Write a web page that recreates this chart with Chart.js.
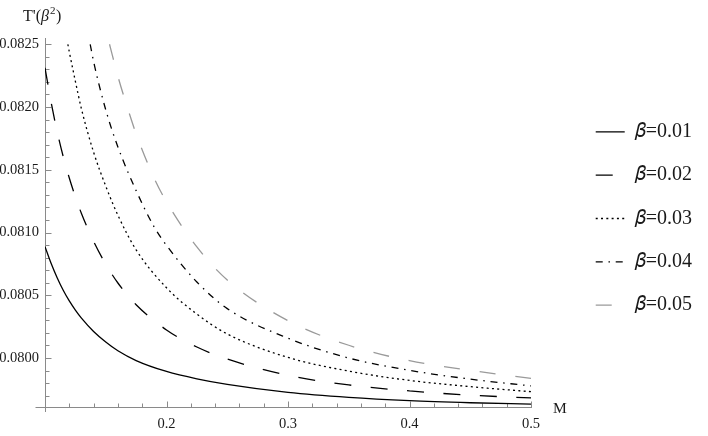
<!DOCTYPE html>
<html>
<head>
<meta charset="utf-8">
<script src="https://cdn.jsdelivr.net/npm/chart.js@4.4.1/dist/chart.umd.min.js"></script>
<style>
html,body{margin:0;padding:0;background:#ffffff;}
#wrap{width:708px;height:436px;}
</style>
</head>
<body>
<div id="wrap"><canvas id="chart" width="708" height="436"></canvas></div>
<script>
// ---- data ----
const seriesLabels = ['𝛽=0.01', '𝛽=0.02', '𝛽=0.03', '𝛽=0.04', '𝛽=0.05'];

const mBeta001 = [0.1, 0.105, 0.11, 0.115, 0.12, 0.125, 0.13, 0.14, 0.15, 0.16, 0.175, 0.2, 0.225, 0.25, 0.3, 0.35, 0.4, 0.45, 0.5];
const tBeta001 = [0.080888, 0.080755, 0.080640, 0.080540, 0.080455, 0.080382, 0.080318, 0.080212, 0.080128, 0.080058, 0.079980, 0.079893, 0.079834, 0.079790, 0.079726, 0.079686, 0.079660, 0.079644, 0.079633];

const mBeta002 = [0.1, 0.105, 0.11, 0.115, 0.12, 0.125, 0.13, 0.14, 0.15, 0.16, 0.175, 0.2, 0.225, 0.25, 0.3, 0.35, 0.4, 0.45, 0.5];
const tBeta002 = [0.082312, 0.082040, 0.081805, 0.081605, 0.081435, 0.081285, 0.081152, 0.080930, 0.080748, 0.080598, 0.080425, 0.080224, 0.080088, 0.079992, 0.079862, 0.079786, 0.079738, 0.079704, 0.079682];

const mBeta003 = [0.1188, 0.12, 0.125, 0.13, 0.14, 0.15, 0.16, 0.175, 0.2, 0.225, 0.25, 0.3, 0.35, 0.4, 0.45, 0.5];
const tBeta003 = [0.082500, 0.082440, 0.082205, 0.081985, 0.081640, 0.081370, 0.081138, 0.080862, 0.080560, 0.080350, 0.080192, 0.080005, 0.079896, 0.079822, 0.079772, 0.079732];

const mBeta004 = [0.1372, 0.14, 0.15, 0.16, 0.175, 0.19, 0.2, 0.225, 0.25, 0.3, 0.35, 0.4, 0.45, 0.5];
const tBeta004 = [0.082500, 0.082362, 0.081978, 0.081682, 0.081334, 0.081042, 0.080898, 0.080606, 0.080394, 0.080158, 0.080000, 0.079902, 0.079832, 0.079778];

const mBeta005 = [0.1531, 0.16, 0.17, 0.175, 0.19, 0.2, 0.225, 0.25, 0.3, 0.35, 0.4, 0.45, 0.5];
const tBeta005 = [0.082500, 0.082245, 0.081930, 0.081786, 0.081430, 0.081245, 0.080885, 0.080622, 0.080298, 0.080102, 0.079979, 0.079902, 0.079838];

const xTickValues = [0.2, 0.3, 0.4, 0.5];
const xTickLabels = ['0.2', '0.3', '0.4', '0.5'];
const yTickValues = [0.0800, 0.0805, 0.0810, 0.0815, 0.0820, 0.0825];
const yTickLabels = ['0.0800', '0.0805', '0.0810', '0.0815', '0.0820', '0.0825'];
const xAxisTitle = 'M';
const yAxisTitleParts = ["T'(", 'β', '2', ')'];

// ---- axis ranges ----
const xMin = 0.1;          // y axis crosses here
const yMin = 0.07961;      // x axis sits here
const yMax = 0.08255;
const xPxPerUnit = 1215;   // horizontal scale of the reference

const SERIF = '"Liberation Serif", "Times New Roman", serif';
const AXIS_COLOR = '#8a8a8a';
const TEXT_COLOR = '#1a1a1a';

function pts(m, t) { return m.map((x, i) => ({ x: x, y: t[i] })); }

const styles = [
  { color: '#000000', dash: [] },
  { color: '#000000', dash: [17, 19.5] },
  { color: '#000000', dash: [2, 3.3] },
  { color: '#000000', dash: [7, 5.75, 1.5, 5.75] },
  { color: '#9a9a9a', dash: [16, 20] }
];
const seriesM = [mBeta001, mBeta002, mBeta003, mBeta004, mBeta005];
const seriesT = [tBeta001, tBeta002, tBeta003, tBeta004, tBeta005];

const datasets = seriesLabels.map((lab, i) => ({
  label: lab,
  data: pts(seriesM[i], seriesT[i]),
  borderColor: styles[i].color,
  backgroundColor: styles[i].color,
  borderDash: styles[i].dash,
  borderWidth: 1.3,
  borderCapStyle: 'butt',
  pointRadius: 0,
  pointHoverRadius: 0,
  pointStyle: 'line',
  fill: false,
  tension: 0,
  cubicInterpolationMode: 'monotone'
}));

// Mathematica-style axes through the origin corner, with inward ticks
const axesPlugin = {
  id: 'mmaAxes',
  afterLayout(chart) {
    if (chart.legend) { chart.legend.top -= 4; chart.legend.bottom -= 4; }
  },
  beforeDatasetsDraw(chart) {
    const { ctx, scales: { x, y } } = chart;
    const ox = Math.round(x.getPixelForValue(xMin)) + 0.5;
    const oy = Math.round(y.getPixelForValue(yMin)) + 0.5;
    ctx.save();
    ctx.strokeStyle = AXIS_COLOR;
    ctx.lineWidth = 1;
    ctx.beginPath();
    ctx.moveTo(ox - 10, oy);
    ctx.lineTo(Math.round(x.getPixelForValue(0.5)) + 1, oy);
    ctx.moveTo(ox, chart.chartArea.top);
    ctx.lineTo(ox, oy + 4.5);
    // x ticks every 0.02
    for (let k = 1; k <= 20; k++) {
      const n = 10 + 2 * k;
      const px = Math.round(x.getPixelForValue(n / 100)) + 0.5;
      const len = (n % 10 === 0) ? 6 : 4;
      ctx.moveTo(px, oy);
      ctx.lineTo(px, oy - len);
    }
    // y ticks every 0.0001
    for (let n = 797; n <= 825; n++) {
      const py = Math.round(y.getPixelForValue(n / 10000)) + 0.5;
      const len = (n % 5 === 0) ? 6 : 4;
      ctx.moveTo(ox, py);
      ctx.lineTo(ox + len, py);
    }
    ctx.stroke();
    ctx.restore();
  },
  afterDraw(chart) {
    const { ctx, scales: { x } } = chart;
    ctx.save();
    ctx.fillStyle = TEXT_COLOR;
    ctx.textBaseline = 'alphabetic';
    ctx.textAlign = 'left';
    // y axis title  T'(β²)
    let tx = 23;
    const base = 21;
    const fonts = ['16px ' + SERIF, 'italic 16px ' + SERIF, '11px ' + SERIF, '16px ' + SERIF];
    const dys = [0, 0, -7, 0];
    yAxisTitleParts.forEach((p, i) => {
      ctx.font = fonts[i];
      ctx.fillText(p, tx, base + dys[i]);
      tx += ctx.measureText(p).width + (i === 1 ? 1 : 0) + (i === 2 ? 0.5 : 0);
    });
    // x axis title
    ctx.font = '15.5px ' + SERIF;
    ctx.fillText(xAxisTitle, x.getPixelForValue(0.5) + 22, 413);
    ctx.restore();
  }
};

const chart = new Chart(document.getElementById('chart'), {
  type: 'line',
  data: { datasets: datasets },
  options: {
    responsive: false,
    animation: false,
    devicePixelRatio: 1,
    layout: { padding: { left: 0, top: 38, right: 6, bottom: 0 } },
    interaction: { mode: 'nearest', intersect: false },
    plugins: {
      tooltip: { enabled: false },
      title: { display: false },
      legend: {
        display: true,
        position: 'right',
        align: 'center',
        fullSize: false,
        labels: {
          usePointStyle: true,
          pointStyleWidth: 29,
          padding: 23.3,
          color: TEXT_COLOR,
          font: { family: SERIF, size: 20 },
          generateLabels: (ch) => ch.data.datasets.map((ds, i) => ({
            text: ds.label,
            fillStyle: ds.borderColor,
            strokeStyle: ds.borderColor,
            fontColor: TEXT_COLOR,
            lineWidth: ds.borderWidth,
            lineDash: ds.borderDash,
            lineCap: 'butt',
            pointStyle: 'line',
            hidden: !ch.isDatasetVisible(i),
            datasetIndex: i
          }))
        }
      }
    },
    scales: {
      x: {
        type: 'linear',
        min: xMin,
        max: 0.534,
        grid: { display: false, drawTicks: false },
        border: { display: false },
        afterBuildTicks: (s) => { s.ticks = xTickValues.map(v => ({ value: v })); },
        afterFit: (s) => { s.height = 29; },
        ticks: {
          autoSkip: false,
          maxRotation: 0,
          padding: 8,
          color: TEXT_COLOR,
          font: { family: SERIF, size: 14.5 },
          callback: (v) => xTickLabels[xTickValues.indexOf(v)]
        }
      },
      y: {
        type: 'linear',
        min: yMin,
        max: yMax,
        grid: { display: false, drawTicks: false },
        border: { display: false },
        afterBuildTicks: (s) => { s.ticks = yTickValues.map(v => ({ value: v })); },
        afterFit: (s) => { s.width = 45; },
        ticks: {
          autoSkip: false,
          padding: 6,
          color: TEXT_COLOR,
          font: { family: SERIF, size: 14.5 },
          callback: (v) => yTickLabels[yTickValues.indexOf(v)]
        }
      }
    }
  },
  plugins: [axesPlugin]
});

// match the horizontal scale of the reference: 0.1 per 121.5 px
const area = chart.chartArea;
chart.options.scales.x.max = xMin + (area.right - area.left) / xPxPerUnit;
chart.update('none');
</script>
</body>
</html>
